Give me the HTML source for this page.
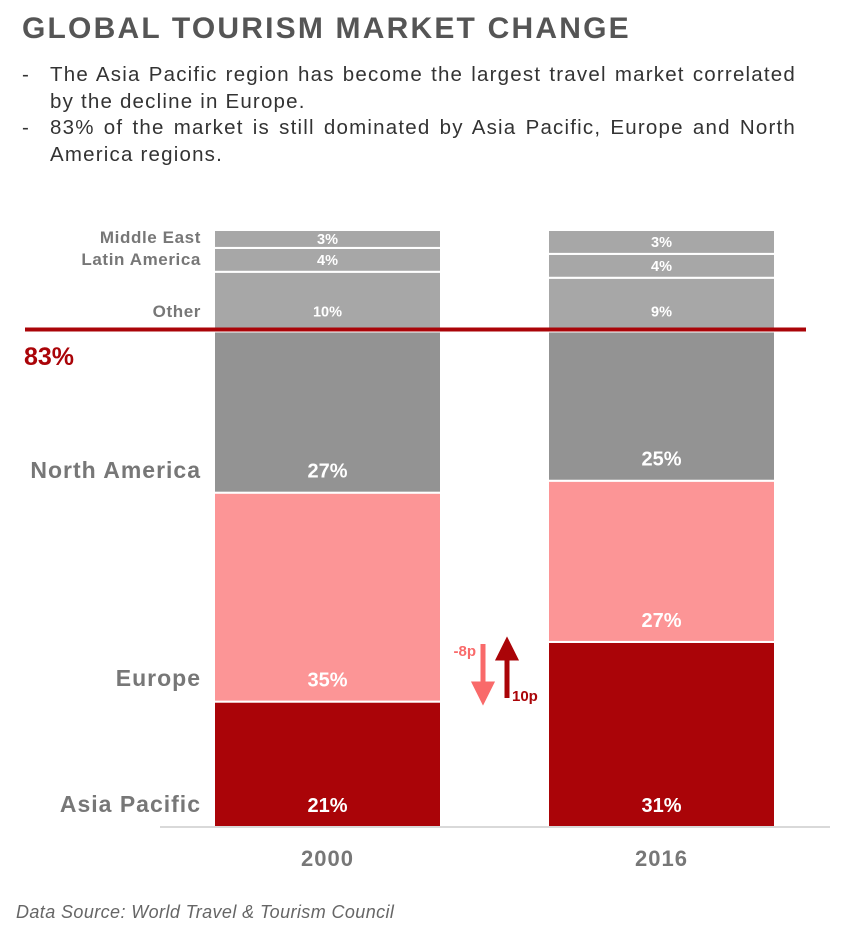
<!DOCTYPE html>
<html><head><meta charset="utf-8"><style>
body{margin:0;background:#fff;font-family:"Liberation Sans",sans-serif;}
#wrap{position:relative;width:868px;height:936px;overflow:hidden}
h1{position:absolute;left:22px;top:12px;margin:0;font-size:30px;font-weight:bold;color:#555;letter-spacing:2.2px;white-space:nowrap}
.b{position:absolute;left:22px;font-size:20.5px;color:#333;line-height:27px;width:774px;letter-spacing:1.2px}
.b span.d{position:absolute;left:0}
.b div{margin-left:28px;text-align:justify}
.src{position:absolute;left:16px;top:902px;font-size:18px;font-style:italic;color:#666;letter-spacing:0.4px}
</style></head><body>
<div id="wrap">
<h1>GLOBAL TOURISM MARKET CHANGE</h1>
<div class="b" style="top:61px"><span class="d">-</span><div>The Asia Pacific region has become the largest travel market correlated by the decline in Europe.</div></div>
<div class="b" style="top:114px"><span class="d">-</span><div>83% of the market is still dominated by Asia Pacific, Europe and North America regions.</div></div>
<svg id="chart" width="868" height="936" style="position:absolute;left:0;top:0"></svg>
<div class="src">Data Source: World Travel &amp; Tourism Council</div>
</div>
<script>
const years=["2000","2016"];
const regions=["Asia Pacific","Europe","North America","Other","Latin America","Middle East"];
const values2000=[21,35,27,10,4,3];
const values2016=[31,27,25,9,4,3];
const colors=["#aa0408","#fc9596","#939393","#a7a7a7","#a7a7a7","#a7a7a7"];
const threshold=83;
const NS="http://www.w3.org/2000/svg";
const svg=document.getElementById('chart');
const y0=827,y100=230;
const y=v=>y0-(y0-y100)*v/100;
const barX=[214,548],barW=227;
function mk(t,a,txt){const e=document.createElementNS(NS,t);for(const k in a)e.setAttribute(k,a[k]);if(txt!=null)e.textContent=txt;svg.appendChild(e);return e;}
const series=[values2000,values2016];
series.forEach((vals,i)=>{
 let c=0;
 vals.forEach((v,j)=>{
  const top=j==vals.length-1?Math.min(y(c+v),y100):y(c+v),bot=y(c);
  const r=mk('rect',{x:barX[i],y:top,width:barW,height:bot-top,fill:colors[j],stroke:'#fff','stroke-width':2});
  
  
  const big=j<3;
  const ty=j<4?bot-15:(top+bot)/2+5;
  const t=mk('text',{x:barX[i]+barW/2,y:ty,'text-anchor':'middle',fill:'#fff','font-size':big?20:14.5,'font-weight':'bold'},v+'%');
  
  
  c+=v;
 });
 const yl=mk('text',{x:barX[i]+barW/2,y:866,'text-anchor':'middle',fill:'#777','font-size':22,'font-weight':'bold','letter-spacing':1},years[i]);
 
 
});
const ax=mk('line',{x1:160,x2:830,y1:y0,y2:y0,stroke:'#d9d9d9','stroke-width':2});


const catLab=[[812,23],[686,23],[478,23],[317,17],[265,17],[243,17]];
regions.forEach((r,j)=>{
 const t=mk('text',{x:201,y:catLab[j][0],'text-anchor':'end',fill:'#777','font-size':catLab[j][1],'font-weight':'bold','letter-spacing':j<3?1:0.6},r);
 
 
});
const yT=y(threshold);
const tl=mk('line',{x1:25,x2:806,y1:yT-2,y2:yT-2,stroke:'#aa0408','stroke-width':4});


const tt=mk('text',{x:24,y:365,fill:'#aa0408','font-size':25,'font-weight':'bold'},threshold+'%');


const a1=mk('path',{d:'M483 644 V684 M475 684 H491 L483 700 Z',stroke:'#f96a6a','stroke-width':5,fill:'#f96a6a'});


const a2=mk('path',{d:'M507 698 V658 M499 658 H515 L507 642 Z',stroke:'#aa0408','stroke-width':5,fill:'#aa0408'});


const l1=mk('text',{x:476,y:656,'text-anchor':'end',fill:'#f96a6a','font-size':15,'font-weight':'bold'},(values2016[1]-values2000[1])+'p');


const l2=mk('text',{x:512,y:701,fill:'#aa0408','font-size':15,'font-weight':'bold'},(values2016[0]-values2000[0])+'p');


</script>
</body></html>
